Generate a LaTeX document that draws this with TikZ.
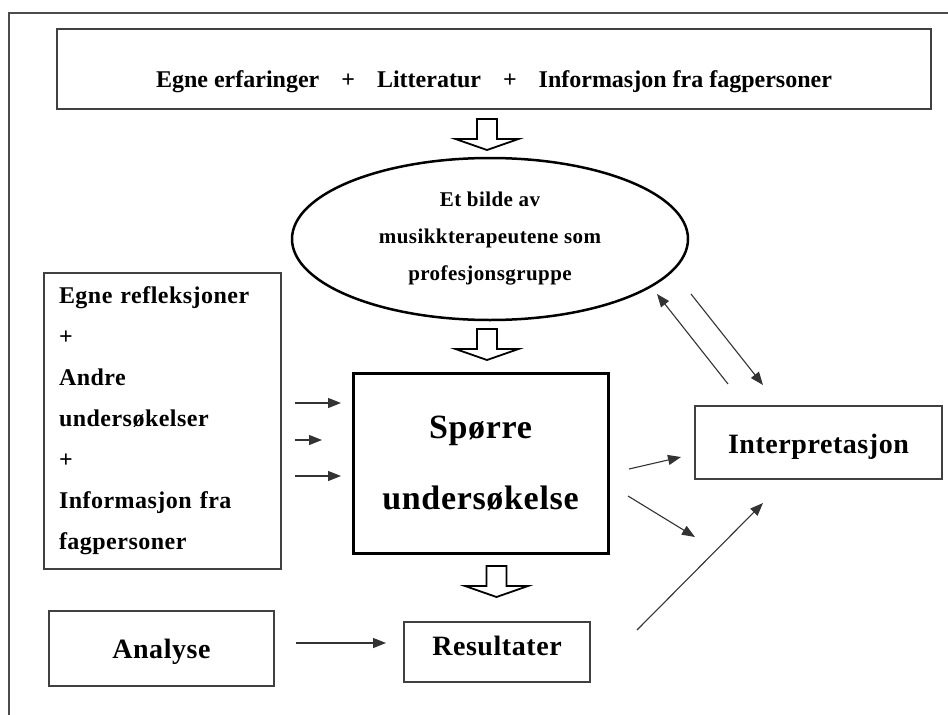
\documentclass[tikz,border=0pt]{standalone}
\usepackage{fontspec}
\setmainfont{Liberation Serif}
\usetikzlibrary{arrows.meta,shapes.geometric,calc}
\newcommand\hollowdown[1]{\draw[blockarr] #1 ++(-10,0) -- ++(20,0) -- ++(0,20) -- ++(21.5,0) -- ++(-31.5,11) -- ++(-31.5,-11) -- ++(21.5,0) -- cycle;}
\begin{document}
\begin{tikzpicture}[x=1pt,y=-1pt,
  box/.style={draw=black!75, line width=1.4pt, inner sep=0pt},
  thinarr/.style={draw=black!80, line width=1.1pt, -{Triangle[length=13pt,width=10pt]}},
  blockarr/.style={draw=black, line width=1.8pt, fill=white, line join=miter},
  lbl/.style={font=\bfseries\fontsize{28}{32}\selectfont\addfontfeature{LetterSpace=2}}]

\useasboundingbox (0,0) rectangle (948,715);
\fill[white] (0,0) rectangle (948,715);
\draw[draw=black!70, line width=1.4pt] (948,13) -- (9,13) -- (9,715);

\node[box, minimum width=874pt, minimum height=80pt, text height=41pt, text depth=5pt,
      font=\bfseries\fontsize{24}{28}\selectfont] (top) at (494,69)
  {Egne erfaringer\hspace{22pt}+\hspace{22pt}Litteratur\hspace{22pt}+\hspace{22pt}Informasjon fra fagpersoner};

\node[draw, ellipse, line width=2.5pt, minimum width=396pt, minimum height=162pt, inner sep=0pt,
      align=center, font=\bfseries\fontsize{21}{37}\selectfont\addfontfeature{LetterSpace=2}] (ell) at (490,239)
  {Et bilde av\\musikkterapeutene som\\profesjonsgruppe};

\node[box, text width=207pt, inner xsep=15pt, inner ysep=0pt, minimum height=296pt, align=left,
      font=\bfseries\fontsize{24}{41}\selectfont\addfontfeature{LetterSpace=2}] (lbox) at (162.5,421)
  {Egne refleksjoner\\+\\Andre\\undersøkelser\\+\\Informasjon fra\\fagpersoner};

\node[draw, line width=3pt, minimum width=255pt, minimum height=180pt, inner sep=0pt, align=center,
      font=\bfseries\fontsize{34}{71}\selectfont\addfontfeature{LetterSpace=2}] (main) at (480.5,463)
  {Spørre\\undersøkelse};

\node[box, lbl, minimum width=247pt, minimum height=73pt, text height=27pt, text depth=6pt] (interp) at (818.5,442.5) {Interpretasjon};
\node[box, lbl, minimum width=225pt, minimum height=75pt, text height=25pt, text depth=6pt] (an) at (161.5,648.5) {Analyse};
\node[box, lbl, minimum width=186pt, minimum height=60pt, text height=19pt, text depth=13pt] (res) at (497,652) {Resultater};

\hollowdown{(487,119)}
\hollowdown{(487,329)}
\hollowdown{(496.5,566)}

\coordinate (a1s) at (295,403); \coordinate (a1e) at (341,403);
\coordinate (a2s) at (295,440); \coordinate (a2e) at (322,440);
\coordinate (a3s) at (295,476); \coordinate (a3e) at (341,476);
\draw[thinarr] (a1s) -- (a1e);
\draw[thinarr] (a2s) -- (a2e);
\draw[thinarr] (a3s) -- (a3e);

\coordinate (b1s) at (728,384); \coordinate (b1e) at (657,294);
\coordinate (b2s) at (691,294); \coordinate (b2e) at (763,385);
\draw[thinarr] (b1s) -- (b1e);
\draw[thinarr] (b2s) -- (b2e);

\coordinate (c1s) at (629,469); \coordinate (c1e) at (681,457);
\coordinate (c2s) at (628,496); \coordinate (c2e) at (695,537);
\coordinate (c3s) at (637,630); \coordinate (c3e) at (763,503);
\draw[thinarr] (c1s) -- (c1e);
\draw[thinarr] (c2s) -- (c2e);
\draw[thinarr] (c3s) -- (c3e);

\coordinate (d1) at (296,643); \coordinate (d2) at (386,643);
\draw[thinarr] (d1) -- (d2);
\end{tikzpicture}
\end{document}
